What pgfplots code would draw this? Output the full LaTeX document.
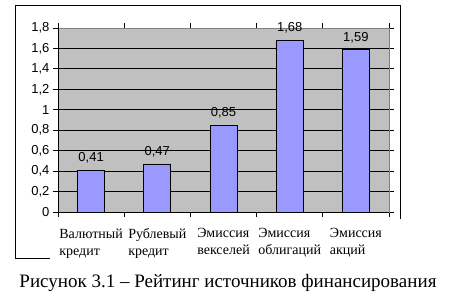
\documentclass[border=0pt]{standalone}
\usepackage{pgfplots}
\pgfplotsset{compat=1.18}
\usepackage{fontspec}
\setmainfont{Liberation Serif}
\newfontfamily\arial{Liberation Sans}
\definecolor{plotgrey}{HTML}{C0C0C0}
\definecolor{barblue}{HTML}{9999FF}
\definecolor{edgegrey}{HTML}{808080}
\begin{document}
\begin{tikzpicture}[x=1pt,y=1pt]
\useasboundingbox (0,0) rectangle (460,300);
\draw[black, line width=0.9pt] (50,42) -- (15,42) -- (15,295) -- (400,295) -- (400,81);
\begin{axis}[
  at={(58pt,88pt)}, anchor=south west,
  width=331pt, height=184pt, scale only axis,
  xmin=-0.5, xmax=4.5, ymin=0, ymax=1.8,
  clip=false,
  axis background/.style={fill=plotgrey},
  axis line style={edgegrey, line width=0.8pt},
  ytick={0,0.2,0.4,0.6,0.8,1,1.2,1.4,1.6,1.8},
  ymajorgrids, grid style={black, line width=0.8pt},
  tick align=outside, major tick length=5pt,
  tick style={black, line width=0.8pt},
  xtick={-0.5,0.5,1.5,2.5,3.5,4.5}, xticklabels={},
  extra x ticks={0,1,2,3,4},
  extra x tick labels={{Валютный\\кредит},{Рублевый\\кредит},{Эмиссия\\векселей},{Эмиссия\\облигаций},{Эмиссия\\акций}},
  extra x tick style={major tick length=0pt, grid=none,
    tick label style={font=\fontsize{14}{17}\selectfont, align=left, yshift=-13pt}},
  yticklabel style={font=\arial\fontsize{13}{15}\selectfont,
    /pgf/number format/use comma, /pgf/number format/fixed,
    /pgf/number format/precision=1, /pgf/number format/assume math mode=true, xshift=0pt},
  ybar, bar width=27pt,
  nodes near coords,
  nodes near coords style={font=\arial\fontsize{13}{15}\selectfont,
    /pgf/number format/use comma, /pgf/number format/fixed,
    /pgf/number format/precision=2, /pgf/number format/assume math mode=true,
    anchor=south, yshift=3pt, black},
  after end axis/.code={
    \draw[black, line width=0.8pt] (rel axis cs:0,1) -- (rel axis cs:0,0) -- (rel axis cs:1,0);
  },
]
\addplot[fill=barblue, draw=black, line width=0.8pt] coordinates {(0,0.41) (1,0.47) (2,0.85) (3,1.68) (4,1.59)};
\end{axis}
\node at (228,17) {\fontsize{19}{22}\selectfont Рисунок 3.1 – Рейтинг источников финансирования};
\end{tikzpicture}
\end{document}
